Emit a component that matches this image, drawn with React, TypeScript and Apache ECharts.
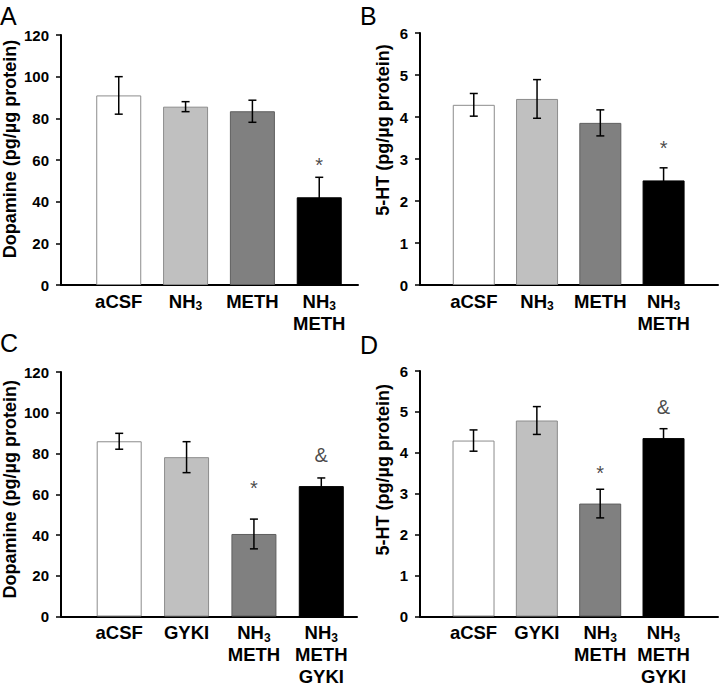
import React, { useEffect, useRef } from "react";
import * as echarts from "echarts";

// ---- Data ----
const categoriesAB = ["aCSF", "NH3", "METH", "NH3\nMETH"];
const categoriesCD = ["aCSF", "GYKI", "NH3\nMETH", "NH3\nMETH\nGYKI"];

const dopamineA = [91, 85.6, 83.4, 42.1];
const dopamineAErr = [9, 2.4, 5.3, 9.6];
const serotoninB = [4.29, 4.43, 3.86, 2.49];
const serotoninBErr = [0.27, 0.46, 0.31, 0.3];
const dopamineC = [86, 78.2, 40.5, 64];
const dopamineCErr = [3.9, 7.6, 7.3, 4];
const serotoninD = [4.3, 4.79, 2.76, 4.36];
const serotoninDErr = [0.26, 0.34, 0.35, 0.23];

// significance marks: text and the value at which they sit
const sigTextA = ["", "", "", "*"];
const sigPosA = [0, 0, 0, 57.5];
const sigTextB = ["", "", "", "*"];
const sigPosB = [0, 0, 0, 3.27];
const sigTextC = ["", "", "*", "&"];
const sigPosC = [0, 0, 63, 79.4];
const sigTextD = ["", "", "*", "&"];
const sigPosD = [0, 0, 3.5, 5.11];

const dopamineTicks = { max: 120, interval: 20 };
const serotoninTicks = { max: 6, interval: 1 };

const barFills = ["#ffffff", "#c0c0c0", "#808080", "#000000"];
const barBorders = ["#8c8c8c", "#8c8c8c", "#5e5e5e", "#000000"];

const FONT = "'Liberation Sans', Arial, sans-serif";

function richLabel(s: string) {
  return s
    .split("\n")
    .map((line) => (line === "NH3" ? "{n|NH}{s|3}" : `{n|${line}}`))
    .join("\n");
}

type Panel = {
  letter: string;
  cats: string[];
  vals: number[];
  errs: number[];
  sigT: string[];
  sigP: number[];
  ticks: { max: number; interval: number };
  title: string;
  grid: { left: number; top: number; width: number; height: number };
  xMin: number;
  xMax: number;
  barW: number;
  nameGap: number;
  nameShift: number;
  letterPos: [number, number];
};

const panels: Panel[] = [
  {
    letter: "A",
    cats: categoriesAB,
    vals: dopamineA,
    errs: dopamineAErr,
    sigT: sigTextA,
    sigP: sigPosA,
    ticks: dopamineTicks,
    title: "Dopamine (pg/\u00b5g protein)",
    grid: { left: 61, top: 35, width: 297, height: 250 },
    xMin: 0.136,
    xMax: 4.58,
    barW: 45,
    nameGap: 42,
    nameShift: 11,
    letterPos: [0, 3],
  },
  {
    letter: "B",
    cats: categoriesAB,
    vals: serotoninB,
    errs: serotoninBErr,
    sigT: sigTextB,
    sigP: sigPosB,
    ticks: serotoninTicks,
    title: "5-HT (pg/\u00b5g protein)",
    grid: { left: 420, top: 33, width: 298, height: 252 },
    xMin: 0.15,
    xMax: 4.86,
    barW: 42,
    nameGap: 28,
    nameShift: 29,
    letterPos: [360, 3],
  },
  {
    letter: "C",
    cats: categoriesCD,
    vals: dopamineC,
    errs: dopamineCErr,
    sigT: sigTextC,
    sigP: sigPosC,
    ticks: dopamineTicks,
    title: "Dopamine (pg/\u00b5g protein)",
    grid: { left: 61, top: 372, width: 296, height: 251 },
    xMin: 0.136,
    xMax: 4.53,
    barW: 45,
    nameGap: 42,
    nameShift: 5,
    letterPos: [0, 330],
  },
  {
    letter: "D",
    cats: categoriesCD,
    vals: serotoninD,
    errs: serotoninDErr,
    sigT: sigTextD,
    sigP: sigPosD,
    ticks: serotoninTicks,
    title: "5-HT (pg/\u00b5g protein)",
    grid: { left: 420, top: 371, width: 298, height: 250 },
    xMin: 0.155,
    xMax: 4.86,
    barW: 42,
    nameGap: 28,
    nameShift: 24,
    letterPos: [360, 332],
  },
];

export default function App() {
  const ref = useRef<HTMLDivElement>(null);
  useEffect(() => {
    if (!ref.current) return;
    const chart = echarts.init(ref.current, null, { renderer: "svg" });

    const grids: any[] = [];
    const xAxes: any[] = [];
    const yAxes: any[] = [];
    const series: any[] = [];
    const graphics: any[] = [];

    panels.forEach((p, k) => {
      grids.push({ ...p.grid, containLabel: false });
      xAxes.push({
        type: "value",
        gridIndex: k,
        min: p.xMin,
        max: p.xMax,
        axisLine: { show: true, lineStyle: { color: "#000", width: 2 } },
        axisTick: { show: false },
        splitLine: { show: false },
        axisLabel: {
          customValues: [1, 2, 3, 4],
          margin: 5,
          color: "#000",
          formatter: (v: number) => richLabel(p.cats[Math.round(v) - 1] || ""),
          rich: {
            n: {
              fontFamily: FONT,
              fontWeight: "bold",
              fontSize: 18.5,
              lineHeight: 22,
              color: "#000",
            },
            s: {
              fontFamily: FONT,
              fontWeight: "bold",
              fontSize: 12,
              verticalAlign: "bottom",
              padding: [6, 0, 0, 0],
              color: "#000",
            },
          },
        },
      });
      yAxes.push({
        type: "value",
        gridIndex: k,
        min: 0,
        max: p.ticks.max,
        interval: p.ticks.interval,
        name: p.title,
        nameLocation: "middle",
        nameGap: p.nameGap,
        nameTextStyle: {
          fontFamily: FONT,
          fontWeight: "bold",
          fontSize: 18,
          color: "#000",
          padding: [0, 0, 0, p.nameShift * 2],
        },
        axisLine: { show: true, lineStyle: { color: "#000", width: 2 } },
        axisTick: { show: true, inside: false, length: 5, lineStyle: { color: "#000", width: 1.5 } },
        splitLine: { show: false },
        axisLabel: {
          fontFamily: FONT,
          fontWeight: "bold",
          fontSize: 15,
          color: "#000",
          margin: 12,
        },
      });
      series.push({
        type: "bar",
        xAxisIndex: k,
        yAxisIndex: k,
        barWidth: p.barW,
        data: p.vals.map((v, i) => ({
          value: [i + 1, v],
          itemStyle: { color: barFills[i], borderColor: barBorders[i], borderWidth: 1 },
        })),
        z: 2,
      });
      series.push({
        type: "custom",
        xAxisIndex: k,
        yAxisIndex: k,
        z: 5,
        data: p.vals.map((v, i) => [i + 1, v - p.errs[i], v + p.errs[i]]),
        renderItem: (params: any, api: any) => {
          const x = api.value(0);
          const hi = api.coord([x, api.value(2)]);
          const lo = api.coord([x, api.value(1)]);
          const hw = 4;
          const st = { stroke: "#000", lineWidth: 1.5 };
          return {
            type: "group",
            children: [
              { type: "line", shape: { x1: hi[0], y1: hi[1], x2: lo[0], y2: lo[1] }, style: st },
              { type: "line", shape: { x1: hi[0] - hw, y1: hi[1], x2: hi[0] + hw, y2: hi[1] }, style: st },
              { type: "line", shape: { x1: lo[0] - hw, y1: lo[1], x2: lo[0] + hw, y2: lo[1] }, style: st },
            ],
          };
        },
      });
      series.push({
        type: "scatter",
        xAxisIndex: k,
        yAxisIndex: k,
        symbol: "circle",
        symbolSize: 1,
        itemStyle: { color: "rgba(0,0,0,0)" },
        z: 6,
        data: p.sigT
          .map((t, i) => (t ? { value: [i + 1, p.sigP[i]], name: t } : null))
          .filter(Boolean),
        label: {
          show: true,
          position: "inside",
          formatter: (d: any) => d.name,
          fontFamily: FONT,
          fontSize: 20,
          color: "#1a1a1a",
        },
      });
      graphics.push({
        type: "text",
        left: p.letterPos[0],
        top: p.letterPos[1],
        style: { text: p.letter, fontFamily: FONT, fontSize: 25, fill: "#000" },
      });
    });

    chart.setOption({
      animation: false,
      backgroundColor: "#ffffff",
      grid: grids,
      xAxis: xAxes,
      yAxis: yAxes,
      series,
      graphic: graphics,
    });
    return () => chart.dispose();
  }, []);
  return (
    <div
      ref={ref}
      style={{ position: "absolute", left: 0, top: 0, width: 720, height: 686 }}
    />
  );
}
